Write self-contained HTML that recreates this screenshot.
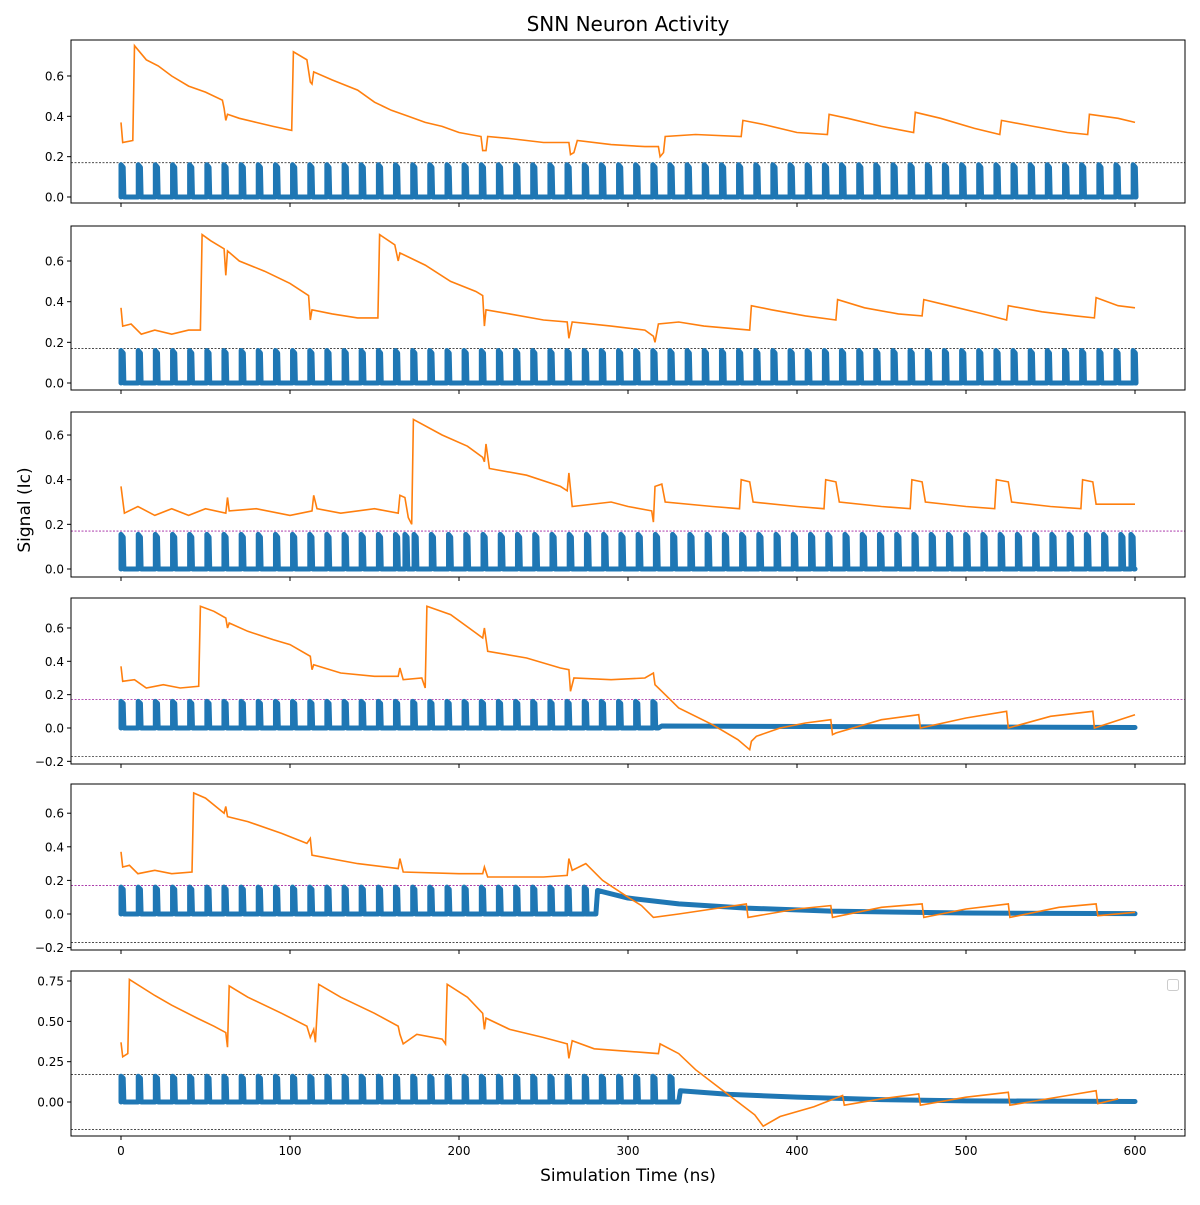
<!DOCTYPE html>
<html><head><meta charset="utf-8"><style>
body{margin:0;background:#fff;font-family:"Liberation Sans","DejaVu Sans",sans-serif}
svg text{font-family:"DejaVu Sans","Liberation Sans",sans-serif}
</style></head><body>
<svg id="c" width="1200" height="1200" xmlns="http://www.w3.org/2000/svg">
<rect width="1200" height="1200" fill="#fff"/>
<text x="628" y="31" font-size="20" text-anchor="middle">SNN Neuron Activity</text>
<text x="30" y="510" font-size="17" text-anchor="middle" transform="rotate(-90 30 510)">Signal (Ic)</text>
<text x="628" y="1181" font-size="17" text-anchor="middle">Simulation Time (ns)</text>
</svg>
<script>
const spikeTimes=[0,10.2,20.3,30.5,40.6,50.8,60.9,71.1,81.2,91.4,101.5,111.7,121.8,132,142.1,152.3,162.4,172.6,182.7,192.9,203,213.2,223.3,233.5,243.6,253.8,263.9,274.1,284.2,294.4,304.5,314.7,324.8,335,345.1,355.3,365.4,375.6,385.7,395.9,406,416.2,426.3,436.5,446.6,456.8,466.9,477.1,487.2,497.4,507.5,517.7,527.8,538,548.1,558.3,568.4,578.6,588.7,598.9];
const spikeTimes3=[0,10.2,20.3,30.5,40.6,50.8,60.9,71.1,81.2,91.4,101.5,111.7,121.8,132,142.1,152.3,162.4,168,173.4,183.6,193.8,204,214.2,224.4,234.6,244.8,255,265.2,275.4,285.6,295.8,306,316.2,326.4,336.6,346.8,357,367.2,377.4,387.6,397.8,408,418.2,428.4,438.6,448.8,459,469.2,479.4,489.6,499.8,510,520.2,530.4,540.6,550.8,561,571.2,581.4,591.6,597.6];
const spikeEnd=[600,600,600,318,275,325];
const spikeHeight=[0.16,0.16,0.155,0.16,0.16,0.16];
const tail4=[[318,0],[320,0.012],[600,0.003]];
const tail5=[[275,0],[281,0],[282,0.14],[300,0.095],[330,0.06],[370,0.035],[420,0.017],[500,0.006],[600,0.002]];
const tail6=[[325,0],[330,0],[331,0.07],[360,0.047],[400,0.03],[450,0.015],[500,0.007],[600,0.003]];
const orange1=[[0,0.37],[1,0.27],[7,0.28],[8,0.75],[15,0.68],[22,0.65],[30,0.6],[40,0.55],[50,0.52],[60,0.48],[61,0.44],[62,0.38],[63,0.41],[70,0.39],[80,0.37],[90,0.35],[101,0.33],[102,0.72],[110,0.68],[112,0.57],[113,0.56],[114,0.62],[125,0.58],[140,0.53],[150,0.47],[160,0.43],[170,0.4],[180,0.37],[190,0.35],[200,0.32],[213,0.3],[214,0.23],[216,0.23],[217,0.3],[230,0.29],[250,0.27],[265,0.27],[266,0.21],[268,0.22],[270,0.28],[290,0.26],[310,0.25],[318,0.25],[319,0.2],[321,0.22],[322,0.3],[340,0.31],[367,0.3],[368,0.38],[380,0.36],[400,0.32],[418,0.31],[419,0.41],[430,0.39],[450,0.35],[469,0.32],[470,0.42],[485,0.39],[505,0.34],[520,0.31],[521,0.38],[540,0.35],[560,0.32],[572,0.31],[573,0.41],[590,0.39],[600,0.37]];
const orange2=[[0,0.37],[1,0.28],[6,0.29],[12,0.24],[20,0.26],[30,0.24],[40,0.26],[47,0.26],[48,0.73],[53,0.7],[61,0.66],[62,0.53],[63,0.65],[70,0.6],[85,0.55],[100,0.49],[111,0.43],[112,0.31],[113,0.36],[125,0.34],[140,0.32],[152,0.32],[153,0.73],[162,0.68],[164,0.6],[165,0.64],[180,0.58],[195,0.5],[210,0.45],[214,0.43],[215,0.28],[216,0.36],[230,0.34],[250,0.31],[264,0.3],[265,0.22],[267,0.3],[290,0.28],[310,0.26],[315,0.23],[316,0.2],[318,0.29],[330,0.3],[345,0.28],[372,0.26],[373,0.38],[385,0.36],[405,0.33],[423,0.31],[424,0.41],[440,0.37],[460,0.34],[474,0.33],[475,0.41],[490,0.38],[510,0.34],[524,0.31],[525,0.38],[545,0.35],[565,0.33],[576,0.32],[577,0.42],[590,0.38],[600,0.37]];
const orange3=[[0,0.37],[2,0.25],[10,0.28],[20,0.24],[30,0.27],[40,0.24],[50,0.27],[62,0.25],[63,0.32],[64,0.26],[80,0.27],[100,0.24],[113,0.26],[114,0.33],[116,0.27],[130,0.25],[150,0.27],[164,0.25],[165,0.33],[168,0.32],[170,0.23],[172,0.2],[173,0.67],[190,0.6],[205,0.55],[214,0.5],[215,0.48],[216,0.56],[218,0.45],[240,0.42],[260,0.37],[264,0.35],[265,0.43],[267,0.28],[290,0.3],[300,0.28],[314,0.26],[315,0.21],[316,0.37],[320,0.38],[322,0.3],[350,0.28],[366,0.27],[367,0.4],[372,0.39],[374,0.3],[400,0.28],[416,0.27],[417,0.4],[423,0.39],[425,0.3],[450,0.28],[467,0.27],[468,0.4],[474,0.39],[476,0.3],[500,0.28],[517,0.27],[518,0.4],[525,0.39],[527,0.3],[550,0.28],[568,0.27],[569,0.4],[575,0.39],[577,0.29],[600,0.29]];
const orange4=[[0,0.37],[1,0.28],[8,0.29],[15,0.24],[25,0.26],[35,0.24],[46,0.25],[47,0.73],[55,0.7],[62,0.66],[63,0.6],[64,0.63],[75,0.58],[90,0.53],[100,0.5],[112,0.43],[113,0.35],[114,0.38],[130,0.33],[150,0.31],[164,0.31],[165,0.36],[167,0.29],[178,0.3],[180,0.24],[181,0.73],[195,0.68],[210,0.57],[214,0.54],[215,0.6],[217,0.46],[240,0.42],[260,0.36],[265,0.35],[266,0.22],[268,0.3],[290,0.29],[310,0.3],[315,0.33],[316,0.26],[320,0.22],[330,0.12],[350,0.02],[365,-0.07],[372,-0.13],[373,-0.08],[376,-0.05],[390,0.0],[405,0.03],[420,0.05],[421,-0.04],[423,-0.03],[450,0.05],[472,0.08],[473,0.0],[500,0.06],[524,0.1],[525,0.0],[550,0.07],[575,0.1],[576,0.0],[600,0.08]];
const orange5=[[0,0.37],[1,0.28],[5,0.29],[10,0.24],[20,0.26],[30,0.24],[42,0.25],[43,0.72],[50,0.69],[61,0.6],[62,0.64],[63,0.58],[75,0.55],[95,0.48],[110,0.42],[112,0.45],[113,0.35],[140,0.3],[164,0.27],[165,0.33],[167,0.25],[200,0.24],[214,0.24],[215,0.28],[217,0.22],[250,0.22],[264,0.23],[265,0.33],[267,0.26],[275,0.3],[285,0.2],[300,0.1],[308,0.05],[315,-0.02],[330,0.0],[350,0.03],[370,0.06],[371,-0.02],[400,0.03],[420,0.05],[421,-0.02],[450,0.04],[474,0.06],[475,-0.02],[500,0.03],[525,0.06],[526,-0.02],[555,0.04],[577,0.06],[578,-0.01],[600,0.01]];
const orange6=[[0,0.37],[1,0.28],[4,0.3],[5,0.76],[20,0.66],[30,0.6],[45,0.52],[55,0.47],[62,0.43],[63,0.34],[64,0.72],[75,0.65],[95,0.55],[110,0.47],[112,0.4],[114,0.45],[115,0.37],[117,0.73],[130,0.65],[150,0.55],[164,0.47],[165,0.42],[167,0.36],[175,0.42],[190,0.39],[192,0.36],[193,0.73],[205,0.65],[214,0.55],[215,0.45],[216,0.52],[230,0.45],[250,0.4],[264,0.36],[265,0.27],[267,0.38],[280,0.33],[318,0.3],[319,0.36],[330,0.3],[340,0.2],[355,0.08],[365,0.0],[375,-0.08],[380,-0.15],[390,-0.09],[410,-0.03],[427,0.04],[428,-0.02],[450,0.02],[472,0.05],[473,-0.02],[500,0.03],[525,0.06],[526,-0.02],[560,0.04],[577,0.07],[578,-0.01],[590,0.02]];
const yTickSets=[[0,0.2,0.4,0.6],[0,0.2,0.4,0.6],[0,0.2,0.4,0.6],[-0.2,0,0.2,0.4,0.6],[-0.2,0,0.2,0.4,0.6],[0,0.25,0.5,0.75]];
const xTicks=[0,100,200,300,400,500,600];
const thresholds=[[0.17],[0.17],[0.17],[0.17,-0.17],[0.17,-0.17],[0.17,-0.17]];

const NS='http://www.w3.org/2000/svg';
const svg=document.getElementById('c');
const panels=[{t:40,b:203,z:197,s:201.7},{t:226,b:390,z:383,s:203.3},{t:412,b:577,z:569,s:223.3},{t:598,b:764,z:728,s:166.7},{t:784,b:950,z:914,s:168},{t:971,b:1136,z:1102,s:161.3}];
const oranges=[orange1,orange2,orange3,orange4,orange5,orange6];
const tails=[null,null,null,tail4,tail5,tail6];
const L=71,R=1185;
const X=t=>121+t*1014/600;
function mk(tag,attrs,parent){const e=document.createElementNS(NS,tag);for(const k in attrs)e.setAttribute(k,attrs[k]);(parent||svg).appendChild(e);return e;}
const dec=v=>{const d=(v.toString().split('.')[1]||'').length;return d;};
panels.forEach((p,i)=>{
  const Y=v=>p.z-v*p.s;
  const g=mk('g',{});
  
  
  const cp=mk('clipPath',{id:'cp'+i},g);mk('rect',{x:L,y:p.t,width:R-L,height:p.b-p.t},cp);
  const plot=mk('g',{'clip-path':'url(#cp'+i+')'},g);
  thresholds[i].forEach((v,j)=>{
    const purple=(j==0&&i>=2&&i<=4);
    const ln=mk('line',{x1:L,x2:R,y1:Y(v),y2:Y(v),stroke:purple?'#a020a0':'#333','stroke-width':0.8,'stroke-dasharray':'2,1.5'},plot);
    
    
  });
  const st=i==2?spikeTimes3:spikeTimes;
  let d='M'+X(0)+','+Y(0);
  st.forEach(t=>{if(t>spikeEnd[i])return;const h=spikeHeight[i];d+=' L'+X(t)+','+Y(0)+' L'+X(t)+','+Y(h)+' L'+X(t+1.3)+','+Y(h*0.92)+' L'+X(t+1.7)+','+Y(0);});
  if(tails[i]){tails[i].forEach(q=>{d+=' L'+X(q[0])+','+Y(q[1]);});}
  else d+=' L'+X(600)+','+Y(0);
  const bl=mk('path',{d:d,fill:'none',stroke:'#1f77b4','stroke-width':5,'stroke-linejoin':'round','stroke-linecap':'round'},plot);
  
  
  const od=oranges[i].map((q,k)=>(k?'L':'M')+X(q[0]).toFixed(1)+','+Y(q[1]).toFixed(1)).join(' ');
  const ol=mk('path',{d:od,fill:'none',stroke:'#ff7f0e','stroke-width':1.6},plot);
  
  
  const fr=mk('rect',{x:L,y:p.t,width:R-L,height:p.b-p.t,fill:'none',stroke:'#000','stroke-width':1},g);
  
  
  const dd=Math.max(...yTickSets[i].map(dec));
  yTickSets[i].forEach(v=>{
    mk('line',{x1:L-4,x2:L,y1:Y(v),y2:Y(v),stroke:'#000'},g);
    const tx=mk('text',{x:L-7,y:Y(v)+4.5,'font-size':12,'text-anchor':'end'},g);
    tx.textContent=(v<0?'\u2212':'')+Math.abs(v).toFixed(Math.max(dd,1));
    
    
  });
  xTicks.forEach(v=>{
    mk('line',{x1:X(v),x2:X(v),y1:p.b,y2:p.b+4,stroke:'#000'},g);
    if(i==5){const tx=mk('text',{x:X(v),y:p.b+19,'font-size':12,'text-anchor':'middle'},g);tx.textContent=v;
      
      }
  });
});
const lg=mk('rect',{x:1167.5,y:979.5,width:11,height:11,rx:2,fill:'#fff',stroke:'#ccc'});


</script>
</body></html>
